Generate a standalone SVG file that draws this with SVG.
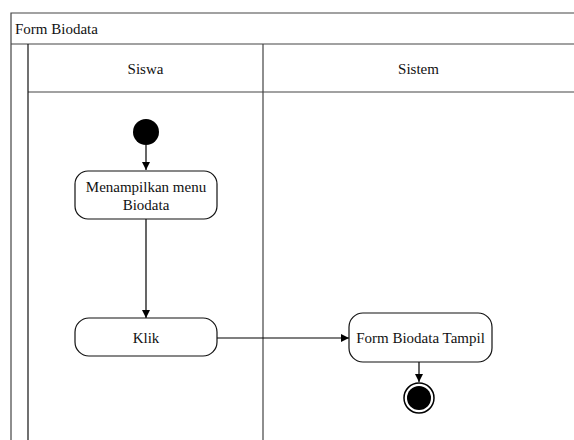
<svg xmlns="http://www.w3.org/2000/svg" width="574" height="440" viewBox="0 0 574 440" font-family="'Liberation Serif', 'Times New Roman', serif">
<style>
text{font-family:"Liberation Serif","Times New Roman",serif;font-size:15px;fill:#111}
.frame{fill:none;stroke:#444;stroke-width:1.2}
.lane{fill:none;stroke:#111;stroke-width:1.2}
.act{fill:#fff;stroke:#111;stroke-width:1.2}
.edge{fill:none;stroke:#000;stroke-width:1.2}
</style>
<defs>
<marker id="arr" viewBox="0 0 10 10" refX="10" refY="5" markerWidth="8" markerHeight="8" markerUnits="userSpaceOnUse" orient="auto">
<path d="M0,0 L10,5 L0,10 Z" fill="#000"/>
</marker>
</defs>
<rect width="574" height="440" fill="#fff"/>
<g id="frame">
<path class="frame" d="M11,440 V13 H575 M11,44 H575 M28,92 H575 M263,44 V440"/>
<path class="lane" d="M28,44 V440"/>
<text x="15" y="34">Form Biodata</text>
<text x="145.5" y="74" text-anchor="middle">Siswa</text>
<text x="418.5" y="74" text-anchor="middle">Sistem</text>
</g>
<g id="connectors">
<path class="edge" d="M146,145 V170" marker-end="url(#arr)"/>
<path class="edge" d="M146,219 V318" marker-end="url(#arr)"/>
<path class="edge" d="M217,338 H349" marker-end="url(#arr)"/>
<path class="edge" d="M419,362 V382" marker-end="url(#arr)"/>
</g>
<g id="start">
<circle cx="146" cy="132" r="13" fill="#000"/>
</g>
<g id="menampilkan">
<rect class="act" x="75" y="171" width="142" height="48" rx="13"/>
<text x="146" y="192" text-anchor="middle">Menampilkan menu</text>
<text x="146" y="210" text-anchor="middle">Biodata</text>
</g>
<g id="klik">
<rect class="act" x="75" y="318" width="142" height="38" rx="14"/>
<text x="146" y="343" text-anchor="middle">Klik</text>
</g>
<g id="formTampil">
<rect class="act" x="349" y="313" width="143" height="49" rx="14"/>
<text x="420.5" y="343" text-anchor="middle">Form Biodata Tampil</text>
</g>
<g id="end">
<circle cx="419" cy="398" r="15" fill="#fff" stroke="#000" stroke-width="1.5"/>
<circle cx="419" cy="398" r="12" fill="#000"/>
</g>
</svg>
